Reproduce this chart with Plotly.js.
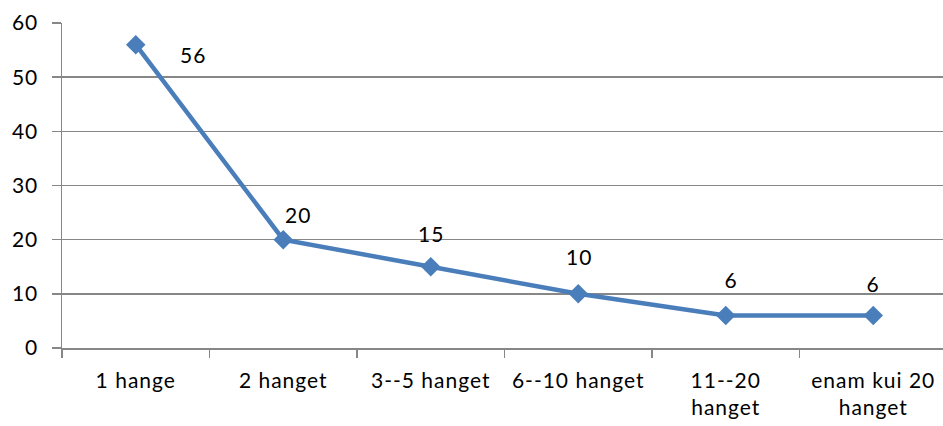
<!DOCTYPE html>
<html>
<head>
<meta charset="utf-8">
<script src="https://cdn.plot.ly/plotly-3.0.1.min.js"></script>
<style>
  html, body { margin: 0; padding: 0; background: #fff; overflow: hidden; }
  #chart { width: 950px; height: 426px; }
  #chart text { letter-spacing: 1px; }
</style>
</head>
<body>
<div id="chart"></div>
<script>
// Categories and counts
const categories = ["1 hange", "2 hanget", "3--5 hanget", "6--10 hanget", "11--20<br>hanget", "enam kui 20<br>hanget"];
const values = [56, 20, 15, 10, 6, 6];
const yTicks = [0, 10, 20, 30, 40, 50, 60];

// Pixel offsets of each value label relative to its point
const labelShiftX = [57, 15, 0, 1, 5, 0];
const labelShiftY = [-10, 25, 33, 37, 36, 32];

const FONT = "Lato, 'Open Sans', sans-serif";
const FONT_SIZE = 21;
const LINE = "#4A7EBB";
const GRID = "#878787";

const trace = {
  type: "scatter",
  mode: "lines+markers",
  x: categories,
  y: values,
  line: { color: LINE, width: 4.5 },
  marker: { symbol: "diamond", size: 15, color: LINE },
  hoverinfo: "skip"
};

const annotations = values.map((v, i) => ({
  x: categories[i],
  y: v,
  xref: "x",
  yref: "y",
  text: String(v),
  showarrow: false,
  xshift: labelShiftX[i],
  yshift: labelShiftY[i],
  font: { family: FONT, size: FONT_SIZE, color: "#000" }
}));

const layout = {
  width: 950,
  height: 426,
  margin: { l: 62, r: 3, t: 23, b: 78 },
  paper_bgcolor: "#fff",
  plot_bgcolor: "#fff",
  showlegend: false,
  font: { family: FONT, size: FONT_SIZE, color: "#000" },
  xaxis: {
    type: "category",
    tickson: "boundaries",
    ticks: "outside",
    ticklen: 8,
    tickwidth: 1.5,
    tickcolor: GRID,
    showline: true,
    linecolor: GRID,
    linewidth: 1.5,
    showgrid: false,
    zeroline: false,
    range: [-0.5, 5.5],
    ticklabelstandoff: 13,
    tickfont: { family: FONT, size: FONT_SIZE, color: "#000" }
  },
  yaxis: {
    range: [0, 60],
    tickvals: yTicks,
    ticktext: yTicks.map(String),
    ticks: "outside",
    ticklen: 9,
    tickwidth: 1.5,
    tickcolor: GRID,
    showline: true,
    linecolor: GRID,
    linewidth: 1.5,
    showgrid: true,
    gridcolor: GRID,
    gridwidth: 1.5,
    zeroline: false,
    ticklabelstandoff: 9,
    tickfont: { family: FONT, size: FONT_SIZE, color: "#000" }
  },
  annotations: annotations
};

Plotly.newPlot("chart", [trace], layout, { staticPlot: true, displayModeBar: false });
</script>
</body>
</html>
